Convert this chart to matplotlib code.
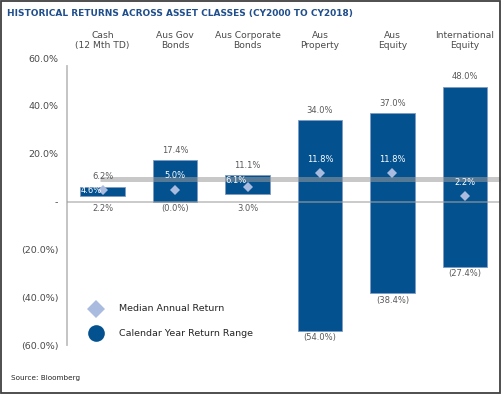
import numpy as np
import matplotlib
matplotlib.use("Agg")
import matplotlib.pyplot as plt
from matplotlib.patches import Rectangle
from matplotlib.lines import Line2D
from matplotlib.transforms import blended_transform_factory

# ---------------- data ----------------
categories = ["Cash\n(12 Mth TD)", "Aus Gov\nBonds", "Aus Corporate\nBonds",
              "Aus\nProperty", "Aus\nEquity", "International\nEquity"]
high_ret = [6.2, 17.4, 11.1, 34.0, 37.0, 48.0]
low_ret = [2.2, -0.02, 3.0, -54.0, -38.4, -27.4]
median_ret = [4.6, 5.0, 6.1, 11.8, 11.8, 2.2]
band_level = 9.2
y_ticks = [60, 40, 20, 0, -20, -40, -60]

# ---------------- style ----------------
BLUE = "#03528F"
DIAMOND = "#A9BCE0"
GREY_TXT = "#4A4A4A"
TITLE_C = "#1F4E8C"

def fmt(v):
    if abs(v) < 1e-9 and v >= 0:
        return "-"
    if v < 0:
        return "({:.1f}%)".format(abs(v))
    return "{:.1f}%".format(v)

W, H = 502, 395
fig = plt.figure(figsize=(W / 100, H / 100), dpi=100)
fig.patch.set_facecolor("white")

ax = fig.add_axes([67 / W, 1 - 345 / H, (500 - 67) / W, (345 - 58) / H])
ax.set_facecolor("none")
x = np.arange(len(categories))
ax.set_xlim(-0.49, 5.483)
ax.set_ylim(-60, 60)

high = np.array(high_ret)
low = np.array(low_ret)
ax.bar(x, high - low, bottom=low, width=0.62, color=BLUE,
       edgecolor="#7F9CC4", linewidth=0.6, zorder=2)

# grey band and zero line
ax.plot([-0.035, 5.483], [band_level, band_level], color="#9C9C9C", lw=3.6,
        alpha=0.55, solid_capstyle="butt", zorder=3, clip_on=False)
ax.axhline(0, color="#A0A0A0", lw=1.2, alpha=0.65, zorder=3)

# medians
ax.plot(x, median_ret, linestyle="none", marker="D", ms=5.5, color=DIAMOND,
        markeredgewidth=0, zorder=5)

# spines / ticks
for s in ["top", "right", "bottom"]:
    ax.spines[s].set_visible(False)
ax.spines["left"].set_color("#BFBFBF")
ax.spines["left"].set_linewidth(1.3)
ax.spines["left"].set_bounds(-60, 56.6)
ax.set_xticks([])
ax.set_yticks(y_ticks)
ax.set_yticklabels([fmt(v) for v in y_ticks], fontsize=6.8, color=GREY_TXT)
ax.tick_params(axis="y", length=0, pad=6.3)

# category headers
trans = blended_transform_factory(ax.transData, fig.transFigure)
for xi, c in zip(x, categories):
    ax.text(xi, 1 - 40.5 / H, c, transform=trans, ha="center", va="center",
            fontsize=6.6, color=GREY_TXT, linespacing=1.15)

# top / bottom labels
for xi, h, l in zip(x, high, low):
    ax.annotate(fmt(h), (xi, h), xytext=(0, 7), textcoords="offset points",
                ha="center", va="center", fontsize=6, color="#595959")
    ax.annotate(fmt(l), (xi, min(l, 0)), xytext=(0, -5), textcoords="offset points",
                ha="center", va="center", fontsize=6, color="#595959")

# median labels (white)
med_offsets = [(-8, 0), (0, 10), (-8, 4.5), (0, 10), (0, 10), (0, 10)]
for xi, m, off in zip(x, median_ret, med_offsets):
    ax.annotate(fmt(m), (xi, m), xytext=off, textcoords="offset points",
                ha="center", va="center", fontsize=6, color="white", zorder=6)

# legend (manual)
fig.add_artist(Line2D([96 / W], [1 - 308.5 / H], marker="D", ms=9, color=DIAMOND,
                      markeredgewidth=0, linestyle="none"))
fig.add_artist(Line2D([96 / W], [1 - 333.3 / H], marker="o", ms=12, color=BLUE,
                      markeredgewidth=0, linestyle="none"))
fig.text(119 / W, 1 - 308.5 / H, "Median Annual Return", fontsize=6.8,
         color="#262626", va="center", ha="left")
fig.text(119 / W, 1 - 333.3 / H, "Calendar Year Return Range", fontsize=6.8,
         color="#262626", va="center", ha="left")

# title and source
fig.text(7 / W, 1 - 13.5 / H, "HISTORICAL RETURNS ACROSS ASSET CLASSES (CY2000 TO CY2018)",
         fontsize=6.45, fontweight="bold", color=TITLE_C, va="center", ha="left")
fig.text(11 / W, 1 - 378 / H, "Source: Bloomberg", fontsize=5.2, color="#262626",
         va="center", ha="left")

# outer frame
fig.add_artist(Rectangle((1 / W, 2 / H), (W - 3) / W, (H - 3) / H, transform=fig.transFigure,
                         fill=False, edgecolor="#404040", linewidth=1.3))

fig.savefig("out.png", dpi=100)
